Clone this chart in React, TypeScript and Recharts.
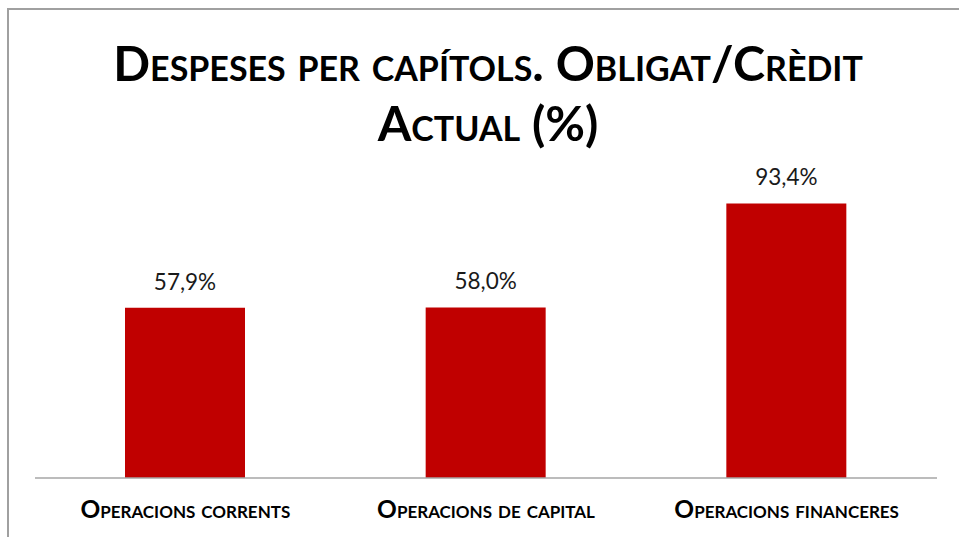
import React from "react";
import { BarChart, Bar, XAxis, YAxis, LabelList } from "recharts";

// ── data ────────────────────────────────────────────────────────────────────
const categories = ["Operacions corrents", "Operacions de capital", "Operacions financeres"];
const obligatPct = [57.9, 58.0, 93.4];
const titleLines = ["Despeses per capítols. Obligat/Crèdit", "Actual (%)"];

const data = categories.map((name, i) => ({ name, value: obligatPct[i] }));

const FONT = "Lato, 'Open Sans', sans-serif";
const fmt = (v: number) => `${v.toFixed(1).replace(".", ",")}%`;

const CategoryTick = ({ x, y, payload }: { x?: number; y?: number; payload?: { value: string } }) => (
  <text
    x={x}
    y={(y ?? 0) + 32}
    textAnchor="middle"
    fill="#000"
    style={{ fontFamily: FONT, fontWeight: 700, fontSize: 24.5, fontVariant: "small-caps" }}
  >
    {payload?.value}
  </text>
);

export default function App() {
  return (
    <div style={{ position: "fixed", left: 0, top: 0, width: 959, height: 537, overflow: "hidden", background: "#fff" }}>
      <div
        style={{
          position: "absolute",
          left: 7,
          top: 8,
          width: 1000,
          height: 600,
          border: "2px solid #a0a0a0",
          boxSizing: "border-box",
        }}
      />
      <div
        style={{
          position: "absolute",
          left: 0,
          top: 32,
          width: 976,
          textAlign: "center",
          fontFamily: FONT,
          fontWeight: 700,
          fontSize: 48.5,
          lineHeight: "60px",
          fontVariant: "small-caps",
          color: "#000",
        }}
      >
        {titleLines.map((t) => (
          <div key={t}>{t}</div>
        ))}
      </div>
      <div style={{ position: "absolute", left: 0, top: 0 }}>
        <BarChart width={959} height={537} data={data} margin={{ top: 184, right: 22, bottom: 29, left: 35 }} barCategoryGap="20%">
          <YAxis hide domain={[0, 100]} />
          <XAxis
            dataKey="name"
            height={30}
            axisLine={{ stroke: "#a6a6a6", strokeWidth: 1.5 }}
            tickLine={false}
            tick={<CategoryTick />}
            interval={0}
          />
          <Bar dataKey="value" fill="#c00000" barSize={120} isAnimationActive={false}>
            <LabelList
              dataKey="value"
              position="top"
              offset={18}
              formatter={(v: number) => fmt(v)}
              style={{ fontFamily: FONT, fontSize: 22.5, fill: "#1a1a1a" }}
            />
          </Bar>
        </BarChart>
      </div>
    </div>
  );
}
